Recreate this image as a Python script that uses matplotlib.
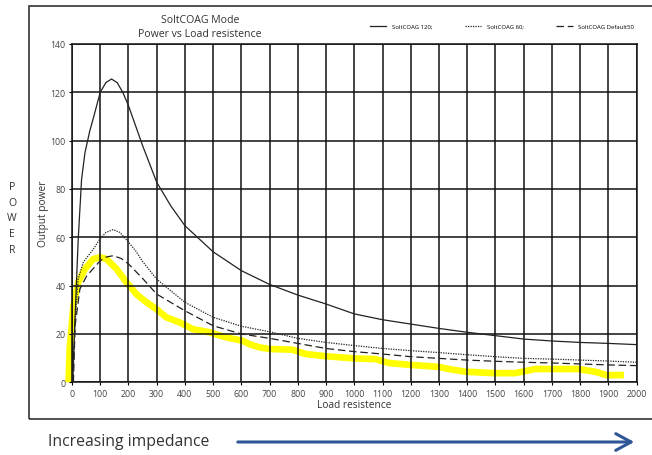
import numpy as np
import matplotlib.pyplot as plt
from matplotlib.patches import Rectangle

plt.rcParams['font.family'] = ['Open Sans', 'DejaVu Sans']

# values (load in ohm, output power)
x_120 = [2, 12, 22, 34, 46, 63, 75, 100, 120, 140, 160, 180, 200, 250, 300, 350, 400, 500,
         600, 700, 800, 900, 1000, 1100, 1200, 1300, 1400, 1500, 1600, 1700, 1800, 1900, 2000]
p_120 = [0, 30, 59, 84, 95, 104, 109, 120, 124, 125.5, 124, 120, 114.5, 98, 82.8, 73, 64.8, 54,
         46.2, 40.5, 36.1, 32.4, 28.3, 25.9, 24.1, 22.3, 20.7, 19.3, 17.9, 17.1, 16.5, 16.1, 15.6]

x_60 = [3, 11, 22, 40, 75, 100, 120, 146, 170, 200, 225, 250, 300, 400, 500, 600, 700, 800, 900,
        1000, 1100, 1200, 1300, 1400, 1500, 1600, 1700, 1800, 1900, 2000]
p_60 = [0, 25, 42.7, 49.7, 55, 59.5, 62, 63.2, 62, 58, 54.5, 50, 42.7, 33.1, 26.9, 23.2, 20.9,
        18.2, 16.5, 15.2, 14, 13.1, 12.3, 11.4, 10.6, 9.9, 9.6, 9.2, 8.8, 8.3]

x_50 = [5, 11, 28, 52, 100, 120, 146, 175, 200, 225, 250, 300, 400, 500, 600, 700, 800, 900,
        1000, 1100, 1200, 1300, 1400, 1500, 1600, 1700, 1800, 1900, 2000]
p_50 = [0, 23.4, 38.6, 44, 50.3, 51.8, 52.4, 51.2, 49, 46, 43, 36.5, 29.6, 23.4, 20, 18.2, 16.1,
        14, 12.7, 11.7, 10.6, 9.9, 9.2, 8.7, 8.3, 8, 7.6, 7.2, 6.9]

x_meas = [-12, -8, 5, 22, 46, 75, 100, 122, 158, 193, 228, 264, 299, 334, 381, 428, 487,
          546, 605, 628, 663, 699, 781, 828, 899, 999, 1075, 1122, 1199, 1299, 1334, 1393,
          1493, 1570, 1641, 1793, 1852, 1893, 1955]
p_meas = [0, 14, 31.7, 41.4, 46.9, 51, 51.7, 51, 46.9, 41.4, 36.5, 33.1, 30.3, 26.9, 24.8,
          22, 20.7, 18.6, 17.2, 15.8, 14.5, 13.8, 13.5, 11.7, 10.8, 9.9, 9.6, 8, 7.2, 6.4,
          5.5, 4.4, 3.8, 3.8, 5.5, 5.5, 4.4, 3, 3]

xticks = np.arange(0, 2001, 100)
yticks = np.arange(0, 141, 20)

fig = plt.figure(figsize=(6.52, 4.56), dpi=100)
ax = fig.add_axes([0.1104, 0.1594, 0.866, 0.742])

ax.plot(x_meas, p_meas, color='#ffff00', lw=4.8, solid_capstyle='butt', zorder=1, clip_on=False)
ax.plot(x_120, p_120, color='#222222', lw=0.9, ls='-', label='SoltCOAG 120;', zorder=3)
ax.plot(x_60, p_60, color='#222222', lw=0.9, ls=(0, (1, 1)), label='SoltCOAG 60;', zorder=3)
ax.plot(x_50, p_50, color='#222222', lw=0.9, ls=(0, (6, 3)), label='SoltCOAG Default50', zorder=3)

ax.set_xlim(0, 2000)
ax.set_ylim(0, 140)
ax.set_xticks(xticks)
ax.set_yticks(yticks)
ax.set_axisbelow('line')
ax.grid(True, color='#111111', lw=1.1)
for sp in ax.spines.values():
    sp.set_color('#111111')
    sp.set_linewidth(1.1)
ax.tick_params(labelsize=6.3, labelcolor='#444444', length=2.5, width=0.8, pad=2)

ax.set_xlabel('Load resistence', fontsize=7.3, color='#333333', labelpad=1)
ax.set_ylabel('Output power', fontsize=7.3, color='#333333', labelpad=1)

fig.text(0.307, 0.956, 'SoltCOAG Mode', ha='center', va='center', fontsize=7.6, color='#333333')
fig.text(0.307, 0.925, 'Power vs Load resistence', ha='center', va='center', fontsize=7.6, color='#333333')

fig.legend(loc='center', bbox_to_anchor=(0.77, 0.94), ncol=3, frameon=False,
           fontsize=4.3, handlelength=2.7, handletextpad=0.9, columnspacing=5.5)

# stacked letters on the far left
for i, ch in enumerate('POWER'):
    fig.text(0.0185, 1 - (187.7 + i * 15.6) / 456, ch, ha='center', va='center',
             fontsize=7.6, color='#333333')

# outer frame
fig.patches.append(Rectangle((29 / 652, 1 - 420 / 456), 0.97, (420 - 7) / 456,
                             transform=fig.transFigure, fill=False, ec='#333333', lw=1.2))

fig.text(48 / 652, 1 - 442 / 456, 'Increasing impedance', ha='left', va='center',
         fontsize=11.3, color='#333333')
ax.annotate('', xy=(637 / 652, 1 - 443 / 456), xytext=(235 / 652, 1 - 443 / 456),
            xycoords='figure fraction', textcoords='figure fraction',
            arrowprops=dict(arrowstyle='->,head_length=1.1,head_width=0.6', color='#2f5597', lw=2.2))

fig.savefig('out.png', dpi=100)
